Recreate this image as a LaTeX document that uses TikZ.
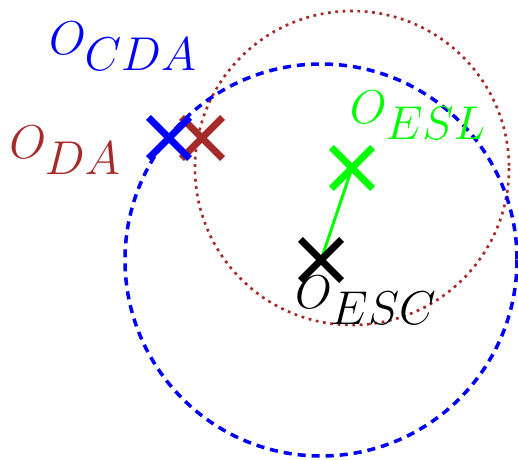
\RequirePackage{fix-cm}
\documentclass[tikz,border=0pt]{standalone}
\usepackage{amsmath}
\usepackage{xcolor}
\usepackage{tikz}
\usetikzlibrary{shapes.misc, positioning}

\definecolor{daRed}{RGB}{165,42,42}
\definecolor{eslGreen}{RGB}{0,255,0}

\begin{document}
\begin{tikzpicture}[
    x=0.02cm, y=-0.02cm,
    xmark/.style={draw, cross out, minimum size=0.68cm, inner sep=0pt, line width=4pt},
    lbl/.style={inner sep=0pt, font=\fontsize{27}{32}\selectfont},
]
\useasboundingbox (0,0) rectangle (518,460);

% Centres
\coordinate (eslc) at (352,168);
\coordinate (escc) at (321,260);

% Circles round the two centres
\draw[daRed, line width=1.5pt, dash pattern=on 1.6pt off 2.6pt] (eslc) circle (157);
\draw[blue, line width=2pt, dash pattern=on 4.6pt off 3.4pt] (escc) circle (196);

% Crosses on top
\node[xmark, daRed] (da) at (202,138) {};
\node[xmark, blue] (cda) at (169,138) {};
\node[xmark, eslGreen] (esl) at (eslc) {};
\draw[eslGreen, line width=1.7pt] (esl.center) -- (escc);
\node[xmark, black] (esc) at (escc) {};

% Labels
\node[lbl, text=blue] (lcda) at (123,46) {$O_{\textstyle CDA}$};
\node[lbl, text=daRed] (lda) at (65,150) {$O_{\textstyle DA}$};
\node[lbl, text=eslGreen] (lesl) at (418,115) {$O_{\textstyle ESL}$};
\node[lbl] (lesc) at (366,300) {$O_{\textstyle ESC}$};
\end{tikzpicture}
\end{document}
